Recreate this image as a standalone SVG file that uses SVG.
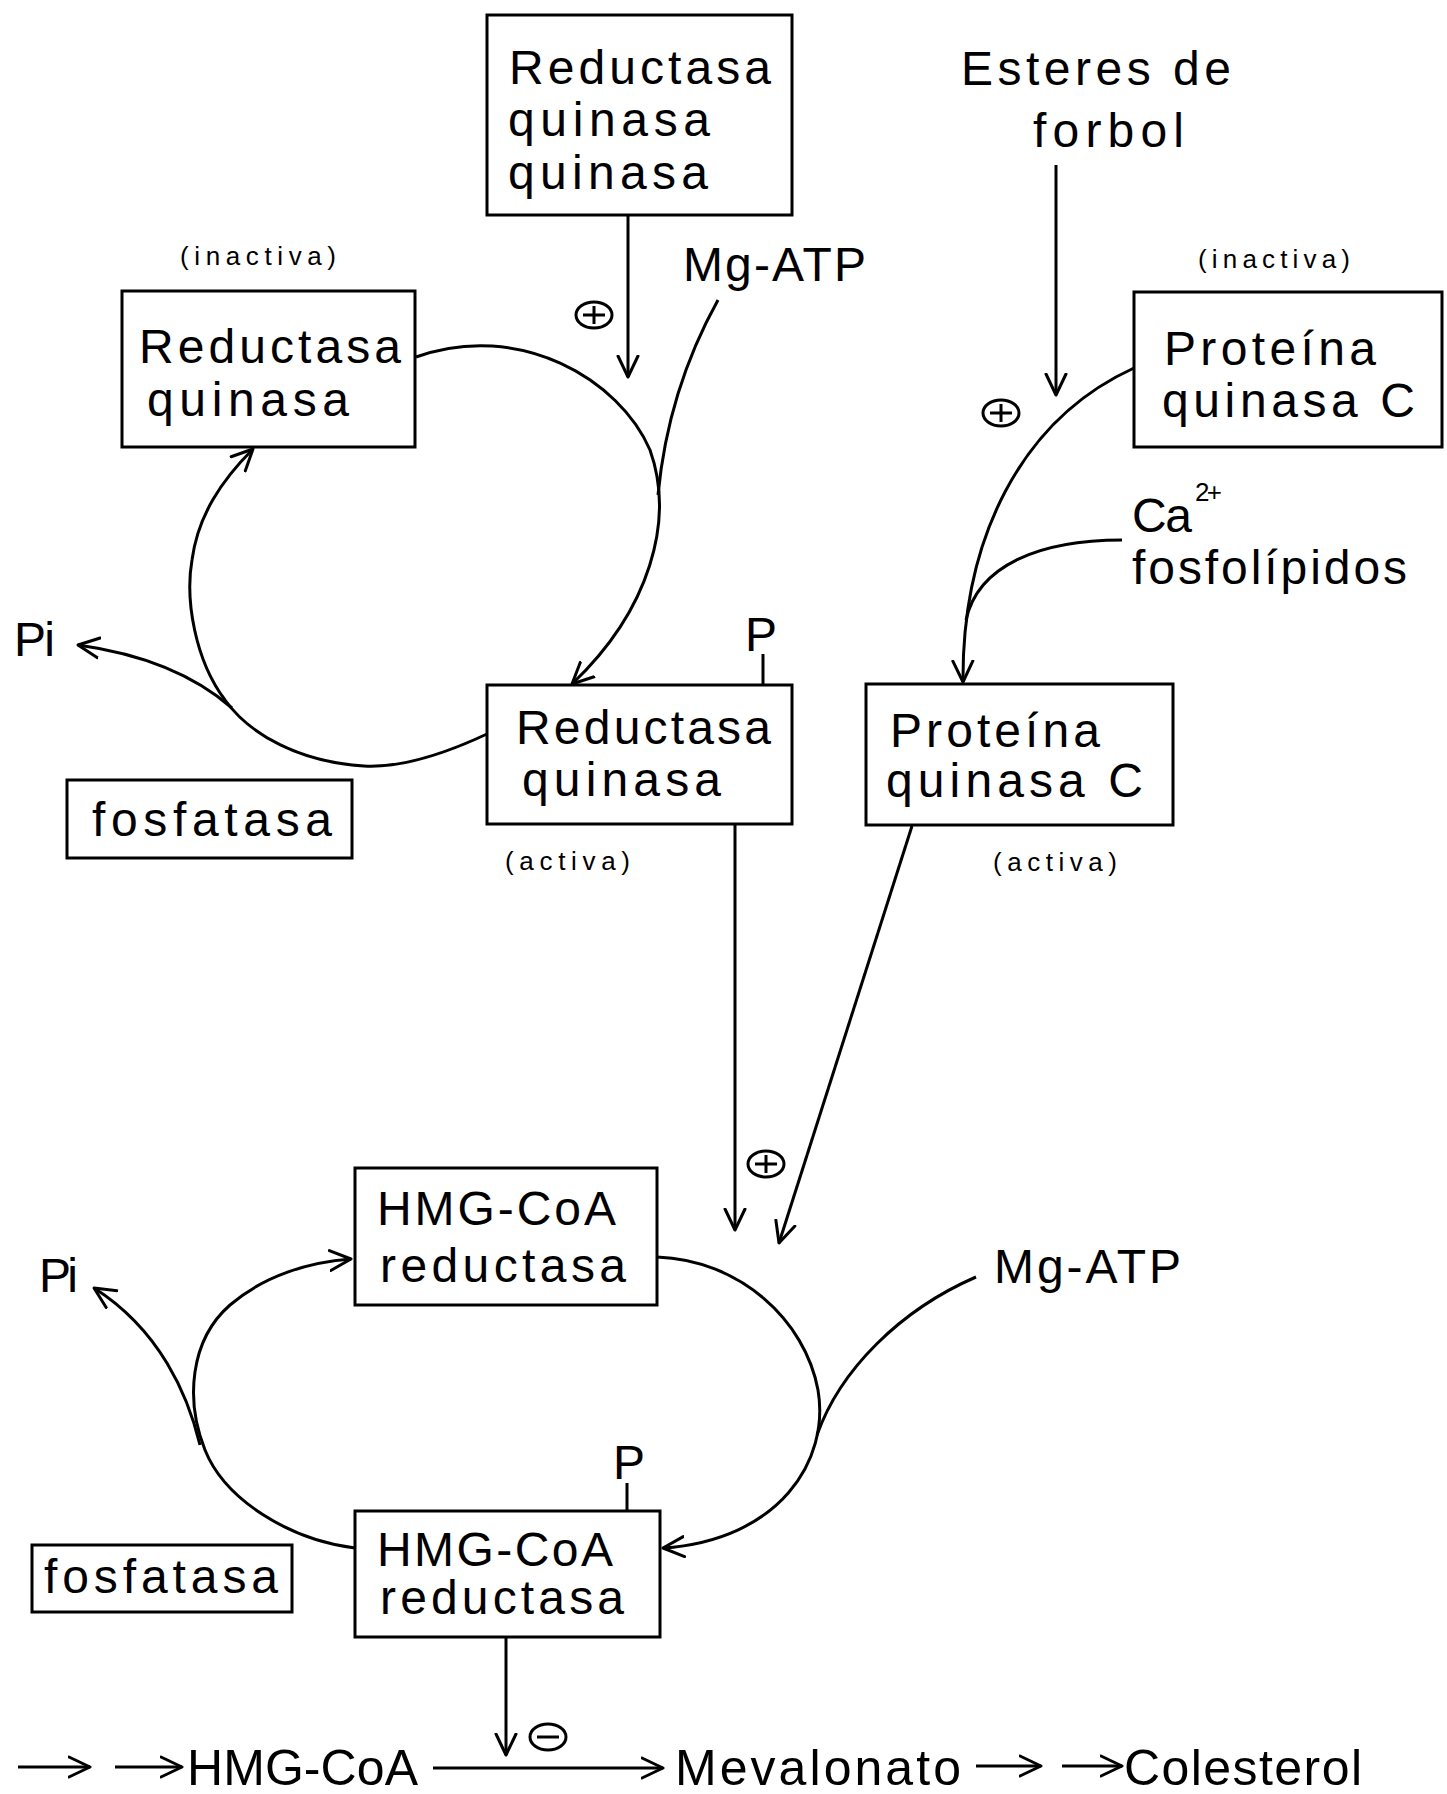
<svg xmlns="http://www.w3.org/2000/svg" width="1447" height="1794" viewBox="0 0 1447 1794">
<style>
  .box { fill: none; stroke: #000; stroke-width: 3; }
  .t { font-family: "Liberation Sans", Arial, sans-serif; font-size: 48px; fill: #000; }
  .s { font-family: "Liberation Sans", Arial, sans-serif; font-size: 26px; fill: #000; }
  .b { font-family: "Liberation Sans", Arial, sans-serif; font-size: 50px; fill: #000; }
  .c { fill: none; stroke: #000; stroke-width: 3; }
  .a { fill: none; stroke: #000; stroke-width: 3; marker-end: url(#ah); }
  .sign { fill: none; stroke: #000; stroke-width: 3; }
</style>
<defs>
  <marker id="ah" viewBox="0 0 24 24" refX="22" refY="12" markerWidth="24" markerHeight="24" markerUnits="userSpaceOnUse" orient="auto">
    <path d="M1,2 L22,12 L1,22" fill="none" stroke="#000" stroke-width="3" stroke-linecap="round" stroke-linejoin="round"/>
  </marker>
</defs>
<rect width="1447" height="1794" fill="#fff"/>

<g id="connectors">
  <path class="a" d="M628,216 L628,377"/>
  <path class="a" d="M1056,165 L1056,395"/>
  <path class="a" d="M416,357 C520,320 620,380 650,450 C675,520 650,610 572,684"/>
  <path class="c" d="M718,300 Q668,390 658,495"/>
  <path class="a" d="M487,734 C440,756 400,768 364,766 C300,762 250,735 225,700 C195,660 185,600 192,560 C198,515 222,480 253,449"/>
  <path class="a" d="M232,708 C200,680 150,655 78,645"/>
  <path class="c" d="M763,654 L763,685"/>
  <path class="a" d="M1134,368 C1020,420 962,540 963,682"/>
  <path class="c" d="M1122,540 C1040,540 978,565 966,620"/>
  <path class="a" d="M735,825 L735,1230"/>
  <path class="a" d="M912,826 L779,1243"/>
  <path class="a" d="M355,1548 C290,1540 225,1500 205,1450 C185,1400 190,1340 230,1305 C265,1275 310,1262 351,1259"/>
  <path class="a" d="M200,1445 C188,1395 160,1330 94,1288"/>
  <path class="a" d="M657,1257 C740,1260 805,1320 818,1390 C830,1460 780,1540 663,1548"/>
  <path class="c" d="M976,1277 C900,1310 840,1370 817,1435"/>
  <path class="c" d="M627,1483 L627,1511"/>
  <path class="a" d="M506,1637 L506,1755"/>
  <path class="a" d="M18,1767 L90,1767"/>
  <path class="a" d="M115,1767 L182,1767"/>
  <path class="a" d="M433,1768 L663,1768"/>
  <path class="a" d="M976,1766 L1041,1766"/>
  <path class="a" d="M1062,1766 L1122,1766"/>
</g>

<g id="signs">
  <g id="plus1"><ellipse class="sign" cx="594" cy="315" rx="18" ry="13"/><path class="sign" d="M583,315 H605 M594,306 V324"/></g>
  <g id="plus2"><ellipse class="sign" cx="1001" cy="413" rx="18" ry="13"/><path class="sign" d="M990,413 H1012 M1001,404 V422"/></g>
  <g id="plus3"><ellipse class="sign" cx="766" cy="1164" rx="18" ry="13"/><path class="sign" d="M755,1164 H777 M766,1155 V1173"/></g>
  <g id="minus1"><ellipse class="sign" cx="548" cy="1737" rx="18" ry="13"/><path class="sign" d="M537,1737 H559"/></g>
</g>

<g id="rqq">
  <rect class="box" x="487" y="15" width="305" height="200"/>
  <text class="t" x="509" y="84" textLength="262" lengthAdjust="spacing">Reductasa</text>
  <text class="t" x="508" y="136" textLength="202" lengthAdjust="spacing">quinasa</text>
  <text class="t" x="508" y="189" textLength="200" lengthAdjust="spacing">quinasa</text>
</g>

<g id="rq-inactiva">
  <text class="s" x="180" y="265" textLength="156" lengthAdjust="spacing">(inactiva)</text>
  <rect class="box" x="122" y="291" width="293" height="156"/>
  <text class="t" x="139" y="363" textLength="262" lengthAdjust="spacing">Reductasa</text>
  <text class="t" x="147" y="416" textLength="202" lengthAdjust="spacing">quinasa</text>
</g>

<g id="mgatp1"><text class="t" x="683" y="281" textLength="183" lengthAdjust="spacing">Mg-ATP</text></g>

<g id="rq-activa">
  <text class="t" x="745" y="651" font-size="44">P</text>
  <rect class="box" x="487" y="685" width="305" height="139"/>
  <text class="t" x="516" y="744" textLength="255" lengthAdjust="spacing">Reductasa</text>
  <text class="t" x="522" y="796" textLength="199" lengthAdjust="spacing">quinasa</text>
  <text class="s" x="505" y="870" textLength="125" lengthAdjust="spacing">(activa)</text>
</g>

<g id="pi1"><text class="t" x="14" y="656" textLength="41" lengthAdjust="spacing">Pi</text></g>

<g id="fosfatasa1">
  <rect class="box" x="67" y="780" width="285" height="78"/>
  <text class="t" x="92" y="836" textLength="240" lengthAdjust="spacing">fosfatasa</text>
</g>

<g id="forbol">
  <text class="t" x="961" y="85" textLength="270" lengthAdjust="spacing">Esteres de</text>
  <text class="t" x="1033" y="147" textLength="151" lengthAdjust="spacing">forbol</text>
</g>

<g id="pkc-inactiva">
  <text class="s" x="1198" y="268" textLength="152" lengthAdjust="spacing">(inactiva)</text>
  <rect class="box" x="1134" y="292" width="308" height="155"/>
  <text class="t" x="1164" y="365" textLength="212" lengthAdjust="spacing">Proteína</text>
  <text class="t" x="1162" y="417" textLength="253" lengthAdjust="spacing">quinasa C</text>
</g>

<g id="ca">
  <text class="t" x="1132" y="532" textLength="60" lengthAdjust="spacing">Ca</text>
  <text class="s" x="1195" y="501" font-size="22" textLength="27" lengthAdjust="spacing">2+</text>
  <text class="t" x="1132" y="584" textLength="275" lengthAdjust="spacing">fosfolípidos</text>
</g>

<g id="pkc-activa">
  <rect class="box" x="866" y="684" width="307" height="141"/>
  <text class="t" x="890" y="747" textLength="210" lengthAdjust="spacing">Proteína</text>
  <text class="t" x="886" y="797" textLength="257" lengthAdjust="spacing">quinasa  C</text>
  <text class="s" x="993" y="871" textLength="124" lengthAdjust="spacing">(activa)</text>
</g>

<g id="hmg-top">
  <rect class="box" x="355" y="1168" width="302" height="137"/>
  <text class="t" x="377" y="1225" textLength="239" lengthAdjust="spacing">HMG-CoA</text>
  <text class="t" x="380" y="1282" textLength="246" lengthAdjust="spacing">reductasa</text>
</g>

<g id="mgatp2"><text class="t" x="994" y="1283" textLength="187" lengthAdjust="spacing">Mg-ATP</text></g>

<g id="pi2"><text class="t" x="39" y="1292" textLength="39" lengthAdjust="spacing">Pi</text></g>

<g id="hmg-bottom">
  <text class="t" x="613" y="1479" font-size="44">P</text>
  <rect class="box" x="355" y="1511" width="305" height="126"/>
  <text class="t" x="377" y="1566" textLength="236" lengthAdjust="spacing">HMG-CoA</text>
  <text class="t" x="380" y="1614" textLength="244" lengthAdjust="spacing">reductasa</text>
</g>

<g id="fosfatasa2">
  <rect class="box" x="32" y="1545" width="260" height="67"/>
  <text class="t" x="44" y="1593" textLength="234" lengthAdjust="spacing">fosfatasa</text>
</g>

<g id="pathway">
  <text class="b" x="187" y="1785" textLength="231" lengthAdjust="spacing">HMG-CoA</text>
  <text class="b" x="675" y="1785" textLength="286" lengthAdjust="spacing">Mevalonato</text>
  <text class="b" x="1124" y="1785" textLength="238" lengthAdjust="spacing">Colesterol</text>
</g>
</svg>
